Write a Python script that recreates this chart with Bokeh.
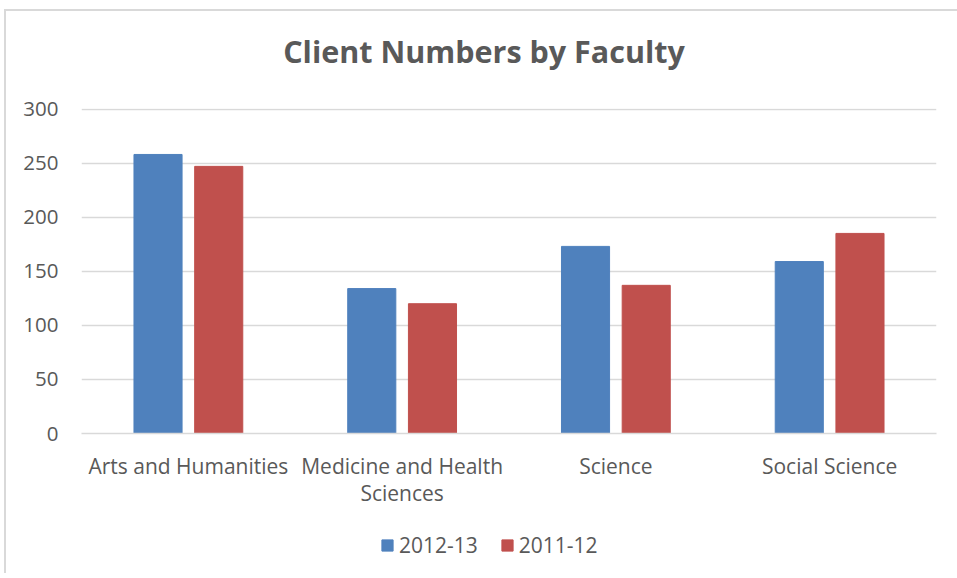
from bokeh.plotting import figure
from bokeh.layouts import column
from bokeh.models import (ColumnDataSource, Legend, LegendItem, FactorRange, Range1d,
                          FixedTicker, Label)
from bokeh.transform import dodge
from bokeh.embed import file_html
from bokeh.resources import INLINE

title_text = "Client Numbers by Faculty"
categories = ["Arts and Humanities", "Medicine and Health\nSciences", "Science", "Social Science"]
series_2012_13 = [258, 134, 173, 159]
series_2011_12 = [247, 120, 137, 185]
series_names = ["2012-13", "2011-12"]
y_ticks = [0, 50, 100, 150, 200, 250, 300]

BLUE = "#4F81BD"
RED = "#C0504D"
TEXT = "#595959"
GRID = "#D9D9D9"
FONT = "Open Sans"

src = ColumnDataSource(dict(cat=categories, a=series_2012_13, b=series_2011_12))

# title strip
p0 = figure(width=955, height=85, title=None, x_axis_type=None, y_axis_type=None,
            output_backend="svg", toolbar_location=None, min_border=0)
p0.outline_line_color = None
p0.add_layout(Label(x=402.5, y=46, x_units="screen", y_units="screen", text=title_text,
                    text_align="center", text_baseline="alphabetic",
                    text_font=FONT, text_font_size="30.5px", text_font_style="bold",
                    text_color=TEXT))

# main chart
p = figure(width=955, height=415, title=None, x_range=FactorRange(*categories, range_padding=0),
           y_range=Range1d(0, 300.5), output_backend="svg", toolbar_location=None,
           min_border_left=75, min_border_right=25, min_border_top=12, min_border_bottom=78)

p.vbar(x=dodge("cat", -0.142, range=p.x_range), top="a", width=0.225, source=src,
       fill_color=BLUE, line_color=BLUE)
p.vbar(x=dodge("cat", 0.142, range=p.x_range), top="b", width=0.225, source=src,
       fill_color=RED, line_color=RED)

p.outline_line_color = None
p.xgrid.grid_line_color = None
p.ygrid.grid_line_color = GRID
p.ygrid.grid_line_width = 1.5
p.ygrid.ticker = FixedTicker(ticks=y_ticks)

p.yaxis.ticker = FixedTicker(ticks=y_ticks)
p.yaxis.axis_line_color = None
p.yaxis.major_tick_line_color = None
p.yaxis.major_tick_out = 0
p.yaxis.minor_tick_line_color = None
p.yaxis.major_label_standoff = 23
p.yaxis.major_label_text_font = FONT
p.yaxis.major_label_text_font_size = "20.5px"
p.yaxis.major_label_text_color = TEXT

p.xaxis.axis_line_color = GRID
p.xaxis.axis_line_width = 1.5
p.xaxis.major_tick_line_color = None
p.xaxis.major_tick_out = 0
p.xaxis.minor_tick_line_color = None
p.xaxis.major_label_standoff = 18
p.xaxis.major_label_text_font = FONT
p.xaxis.major_label_text_font_size = "21px"
p.xaxis.major_label_text_color = TEXT
p.xaxis.major_label_text_line_height = 0.98

# legend strip below the chart (its key renderers fall outside its ranges)
p2 = figure(width=955, height=62, title=None, x_range=FactorRange(*series_names),
            y_range=Range1d(-2, -1), x_axis_type=None, y_axis_type=None,
            output_backend="svg", toolbar_location=None, min_border=0)
p2.outline_line_color = None
k1 = p2.vbar(x="cat", top="a", width=0.225, source=src, fill_color=BLUE, line_color=BLUE)
k2 = p2.vbar(x="cat", top="b", width=0.225, source=src, fill_color=RED, line_color=RED)
legend = Legend(items=[LegendItem(label=series_names[0], renderers=[k1]),
                       LegendItem(label=series_names[1], renderers=[k2])],
                orientation="horizontal", location=(299, 14))
legend.border_line_color = None
legend.background_fill_alpha = 0
legend.label_text_font = FONT
legend.label_text_font_size = "21px"
legend.label_text_color = TEXT
legend.glyph_width = 14
legend.glyph_height = 14
legend.spacing = 22
legend.label_standoff = 5
legend.padding = 0
legend.margin = 0
p2.add_layout(legend)

layout = column(p0, p, p2, spacing=0,
                styles={"border-left": "2px solid #D9D9D9", "border-top": "2px solid #D9D9D9",
                        "margin-left": "4px", "margin-top": "9px"})

open("out.html", "w").write(file_html(layout, INLINE))
